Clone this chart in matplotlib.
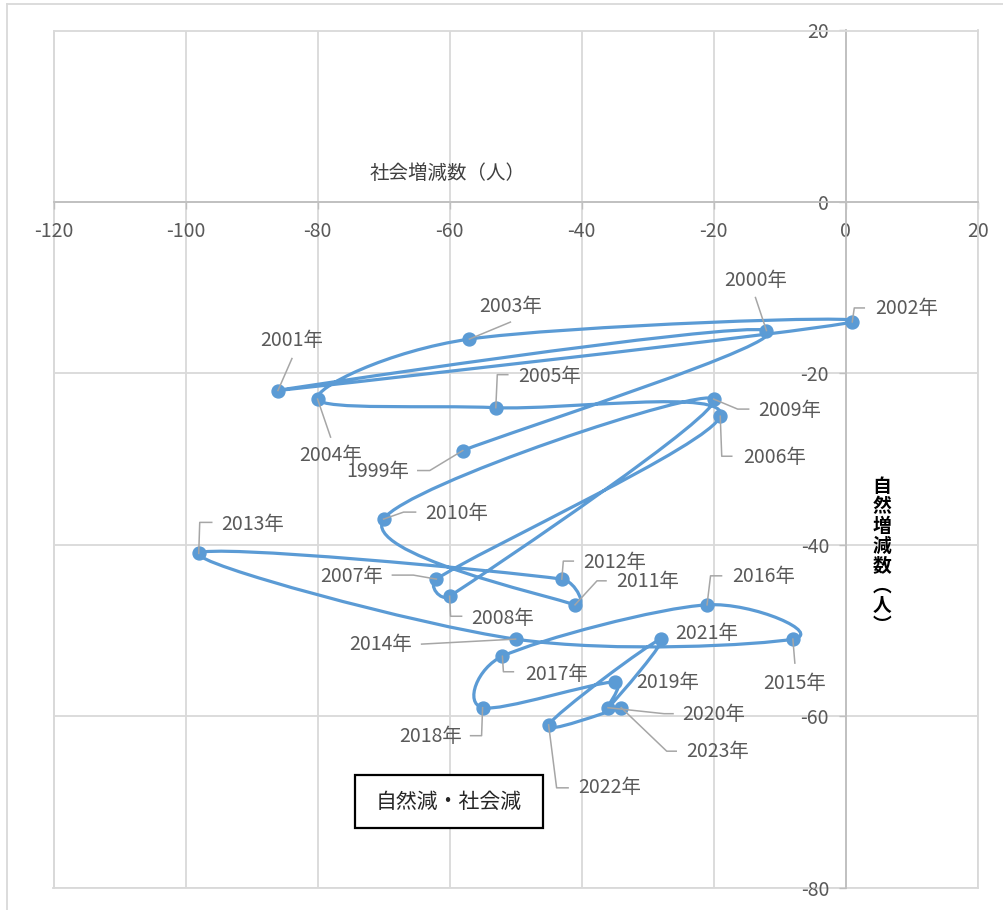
"""Scatter path of natural vs social population change, Excel-style."""

import matplotlib

matplotlib.use("Agg")

import numpy as np
import matplotlib.pyplot as plt
from matplotlib.lines import Line2D
from matplotlib.patches import PathPatch, Rectangle
from matplotlib.path import Path
from matplotlib.transforms import IdentityTransform

plt.rcParams["font.family"] = ["Noto Sans CJK JP", "DejaVu Sans"]
plt.rcParams["axes.unicode_minus"] = False

YEARS = list(range(1999, 2024))

# 社会増減数 (x)
SOCIAL = [-58, -12, -86, 1, -57, -80, -53, -19, -62, -60, -20, -70, -41,
          -43, -98, -50, -8, -21, -52, -55, -35, -36, -28, -45, -34]

# 自然増減数 (y)
NATURAL = [-29, -15, -22, -14, -16, -23, -24, -25, -44, -46, -23, -37, -47,
           -44, -41, -51, -51, -47, -53, -59, -56, -59, -51, -61, -59]

X_TICKS = [-120, -100, -80, -60, -40, -20, 0, 20]
Y_TICKS = [-80, -60, -40, -20, 0, 20]

X_TITLE = "社会増減数（人）"
Y_TITLE = ["自", "然", "増", "減", "数", "︵", "人", "︶"]
BOX_TEXT = "自然減・社会減"

# label placement: text centre offset and leader vertices, pixels from the point (y down)
LABEL_LAYOUT = {
    1999: ((-85, 21), [(-45, 20), (-33, 20), (0, 0)]),
    2000: ((-11, -50), [(-11, -33), (0, 0)]),
    2001: ((14, -50), [(14, -32), (0, 0)]),
    2002: ((54, -13), [(12, -14), (2, -14), (0, 0)]),
    2003: ((41, -33), [(41, -17), (0, 0)]),
    2004: ((13, 56), [(13, 38), (0, 0)]),
    2005: ((54, -31), [(12, -33), (1.5, -33), (0, 0)]),
    2006: ((54, 41), [(0, 0), (1.5, 40), (11.5, 40)]),
    2007: ((-85, -3), [(-44, -4), (-23, -4), (0, 0)]),
    2008: ((53, 22), [(0, 0), (1, 20), (12, 20)]),
    2009: ((76, 11), [(35, 10), (24, 10), (0, 0)]),
    2010: ((73, -6), [(32, -7), (20, -7), (0, 0)]),
    2011: ((73, -23), [(31, -24), (22, -24), (0, 0)]),
    2012: ((53, -17), [(11.5, -18), (1.5, -18), (0, 0)]),
    2013: ((54, -29), [(13, -31), (1, -31), (0, 0)]),
    2014: ((-135, 5), [(-94, 5), (0, 0)]),
    2015: ((2, 44), [(2, 24), (0, 0)]),
    2016: ((57, -28), [(14.5, -29), (3.5, -29), (0, 0)]),
    2017: ((54, 18), [(0, 0), (1, 15.5), (11, 15.5)]),
    2018: ((-52, 29), [(-12, 28), (-1, 28), (0, 0)]),
    2019: ((53, 1), []),
    2020: ((106, 7), [(65, 6), (56, 6), (0, 0)]),
    2021: ((46, -6), []),
    2022: ((61, 63), [(0, 0), (8, 63), (19.5, 63)]),
    2023: ((96, 44), [(55, 43.5), (45.5, 43.5), (0, 0)]),
}

LINE_BLUE = "#5B9BD5"
GRID = "#D9D9D9"
AXIS = "#BFBFBF"
TEXT_GRAY = "#595959"
LEADER = "#A6A6A6"


def smooth_path(ax, xs, ys):
    """Excel-like smoothed line: Bezier arms 1/6 of neighbour span, capped at half the segment."""
    pts = ax.transData.transform(np.column_stack([xs, ys]))
    n = len(pts)
    verts = [pts[0]]
    codes = [Path.MOVETO]
    for i in range(n - 1):
        p0 = pts[i - 1] if i > 0 else pts[i]
        p1 = pts[i]
        p2 = pts[i + 1]
        p3 = pts[i + 2] if i + 2 < n else pts[i + 1]
        d12 = np.hypot(*(p2 - p1))
        t1 = p2 - p0
        t2 = p3 - p1
        d02 = np.hypot(*t1)
        d13 = np.hypot(*t2)
        c1 = p1 + (t1 * min(d02 / 6.0, d12 / 2.0) / d02 if d02 > 0 else 0)
        c2 = p2 - (t2 * min(d13 / 6.0, d12 / 2.0) / d13 if d13 > 0 else 0)
        verts.extend([c1, c2, p2])
        codes.extend([Path.CURVE4] * 3)
    data_verts = ax.transData.inverted().transform(np.array(verts))
    return Path(data_verts, codes)


fig = plt.figure(figsize=(10.04, 9.10), dpi=100)
W, H = 1004, 910

ax = fig.add_axes([53.5 / W, (H - 887.7) / H, 924.2 / W, 857.2 / H])
ax.set_xlim(-120, 20)
ax.set_ylim(-80, 20)
ax.set_xticks(X_TICKS)
ax.set_yticks(Y_TICKS)
ax.grid(True, color=GRID, linewidth=1.3)
ax.set_axisbelow(True)

for side in ["top", "right"]:
    ax.spines[side].set_color(GRID)
    ax.spines[side].set_linewidth(1.3)
ax.axvline(-120, color=GRID, linewidth=1.3, clip_on=False, zorder=0.5)
ax.axhline(-80, color=GRID, linewidth=1.3, clip_on=False, zorder=0.5)

ax.spines["left"].set_position(("data", 0))
ax.spines["bottom"].set_position(("data", 0))
for side in ["left", "bottom"]:
    ax.spines[side].set_color(AXIS)
    ax.spines[side].set_linewidth(1.3)

ax.tick_params(direction="out", length=5, width=1.0, color=AXIS,
               labelcolor=TEXT_GRAY, labelsize=14)
ax.tick_params(axis="x", pad=8.5)
ax.tick_params(axis="y", pad=7)

fig.canvas.draw()

# smoothed path and markers
ax.add_patch(PathPatch(smooth_path(ax, SOCIAL, NATURAL), facecolor="none",
                       edgecolor=LINE_BLUE, linewidth=2.3, zorder=3))
ax.plot(SOCIAL, NATURAL, linestyle="none", marker="o", markersize=9.3,
        color=LINE_BLUE, zorder=4)

# data labels with leader lines
for year, x, y in zip(YEARS, SOCIAL, NATURAL):
    (tdx, tdy), leader = LABEL_LAYOUT[year]
    ax.annotate(f"{year}年", xy=(x, y), xytext=(tdx, -tdy),
                textcoords="offset pixels", ha="center", va="center",
                fontsize=14, color=TEXT_GRAY, zorder=6)
    if leader:
        px, py = ax.transData.transform((x, y))
        lx = [px + dx for dx, dy in leader]
        ly = [py - dy for dx, dy in leader]
        fig.add_artist(Line2D(lx, ly, transform=IdentityTransform(),
                              color=LEADER, linewidth=1.1, zorder=5))

# axis titles
fig.text(447.5 / W, 1 - 173.3 / H, X_TITLE, ha="center", va="center",
         fontsize=14, color="#404040")
fig.text(882 / W, 1 - 556 / H, "\n".join(Y_TITLE), ha="center", va="center",
         fontsize=13.5, color="black", fontweight="bold", linespacing=1.06)

# annotation box
fig.add_artist(Rectangle((355 / W, 1 - 828.3 / H), 188.3 / W, 53.3 / H,
                         transform=fig.transFigure, facecolor="white",
                         edgecolor="black", linewidth=1.6, zorder=7))
fig.text(449 / W, 1 - 801.5 / H, BOX_TEXT, ha="center", va="center",
         fontsize=15, color="#262626", zorder=8)

# outer chart border
fig.add_artist(Line2D([7 / W, 1.0], [1 - 4 / H, 1 - 4 / H],
                      transform=fig.transFigure, color=GRID, linewidth=1.3))
fig.add_artist(Line2D([7 / W, 7 / W], [0.0, 1 - 4 / H],
                      transform=fig.transFigure, color=GRID, linewidth=1.3))

fig.savefig("out.png", dpi=100)
plt.close(fig)
